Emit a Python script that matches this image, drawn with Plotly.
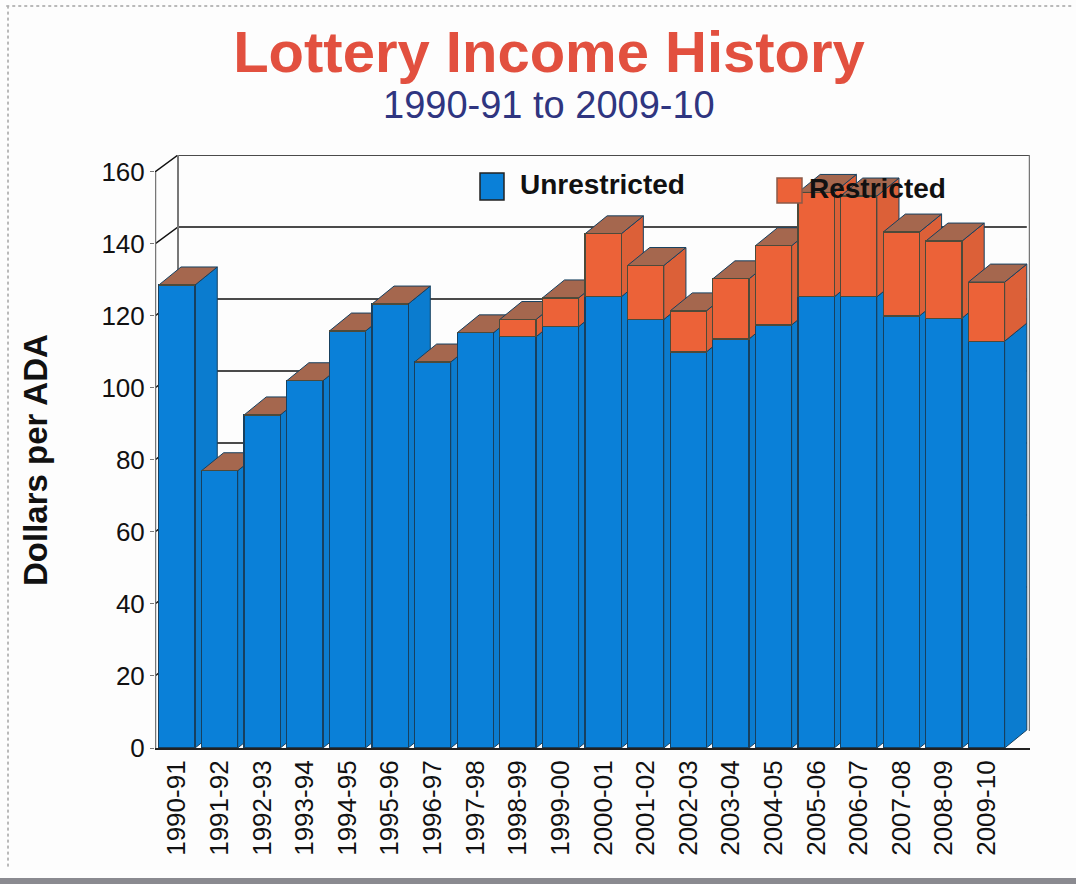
import plotly.graph_objects as go

years = ['1990-91', '1991-92', '1992-93', '1993-94', '1994-95', '1995-96', '1996-97',
         '1997-98', '1998-99', '1999-00', '2000-01', '2001-02', '2002-03', '2003-04',
         '2004-05', '2005-06', '2006-07', '2007-08', '2008-09', '2009-10']
unrestricted = [128.6, 77, 92.5, 102, 115.8, 123.3, 107.2, 115.3, 114.2, 117,
                125.3, 119, 110, 113.6, 117.5, 125.3, 125.3, 120, 119.4, 113]
restricted = [0, 0, 0, 0, 0, 0, 0, 0, 4.8, 8,
              17.5, 15, 11.4, 16.7, 22, 29, 28, 23.3, 21.4, 16.4]
y_ticks = [0, 20, 40, 60, 80, 100, 120, 140, 160]

BLUE = '#0a80d8'
BLUE_SIDE = '#0b7ccf'
RED = '#ec6238'
RED_SIDE = '#dc6038'
BROWN = '#a5674e'
EDGE = '#17405f'
FONT = 'Liberation Sans'

# fake 3D depth, in axis units
X_RANGE = [-0.516, 20.02]
Y_RANGE = [0, 164.7]
BAR_W = 0.85
DX = 0.52
DY = 5
WALL_X = X_RANGE[0] + 0.54
WALL_DY = 4.7
GRID_END = len(years) - 1 + BAR_W / 2 + DX

fig = go.Figure()


def add_line(xs, ys, color='#111111', width=1.5):
    fig.add_trace(go.Scatter(x=xs, y=ys, mode='lines', line=dict(color=color, width=width),
                             showlegend=False, hoverinfo='skip'))


def add_face(xs, ys, color):
    fig.add_trace(go.Scatter(x=xs + xs[:1], y=ys + ys[:1], mode='lines', fill='toself',
                             fillcolor=color, line=dict(color=EDGE, width=1),
                             showlegend=False, hoverinfo='skip'))


# back wall and its gridlines
for v in y_ticks[1:]:
    end = X_RANGE[1] if v == y_ticks[-1] else GRID_END
    add_line([X_RANGE[0], WALL_X, end], [v, v + WALL_DY, v + WALL_DY])
add_line([WALL_X, WALL_X], [WALL_DY, Y_RANGE[1]], '#777777', 2)
add_line([X_RANGE[1], X_RANGE[1]], [WALL_DY, Y_RANGE[1]], '#777777', 2.5)

# side and top faces, painted left to right
for i, (u, r) in enumerate(zip(unrestricted, restricted)):
    xl = i - BAR_W / 2
    xr = i + BAR_W / 2
    t = u + r
    add_face([xr, xr + DX, xr + DX, xr], [0, DY, u + DY, u], BLUE_SIDE)
    if r > 0:
        add_face([xr, xr + DX, xr + DX, xr], [u, u + DY, t + DY, t], RED_SIDE)
    add_face([xl, xl + DX, xr + DX, xr], [t, t + DY, t + DY, t], BROWN)

add_line([X_RANGE[0], X_RANGE[0]], [0, 160], '#777777', 2.5)

# front faces sit on overlaying axes so they cover every side face
idx = list(range(len(years)))
fig.add_trace(go.Bar(x=idx, y=unrestricted, name='Unrestricted', width=BAR_W, xaxis='x2', yaxis='y2',
                     marker=dict(color=BLUE, line=dict(color=EDGE, width=1.2)),
                     customdata=years, hovertemplate='%{customdata}: %{y}<extra>Unrestricted</extra>'))
fig.add_trace(go.Bar(x=idx, y=restricted, name='Restricted', width=BAR_W, xaxis='x2', yaxis='y2',
                     marker=dict(color=RED, line=dict(color='#4d4a3a', width=1.2)),
                     customdata=years, hovertemplate='%{customdata}: %{y}<extra>Restricted</extra>'))

fig.update_layout(
    width=1076,
    height=884,
    margin=dict(l=155, r=46, t=155, b=136),
    paper_bgcolor='#fdfdfd',
    plot_bgcolor='rgba(0,0,0,0)',
    barmode='stack',
    showlegend=False,
    title=dict(text='<b>Lottery Income History</b>', x=549 / 1076, xanchor='center', y=0.941, yanchor='middle',
               font=dict(family=FONT, size=58, color='#e2503f')),
    xaxis=dict(range=X_RANGE, tickmode='array', tickvals=idx, ticktext=years, tickangle=-90,
               showgrid=False, zeroline=False, showline=True, linecolor='#222222', linewidth=2,
               ticks='', tickfont=dict(family=FONT, size=26, color='#111111')),
    yaxis=dict(range=Y_RANGE, tickmode='array', tickvals=y_ticks, showgrid=False, zeroline=False,
               ticks='outside', ticklen=4, tickcolor='#777777', showline=False,
               tickfont=dict(family=FONT, size=26, color='#111111')),
    xaxis2=dict(range=X_RANGE, overlaying='x', visible=False),
    yaxis2=dict(range=Y_RANGE, overlaying='y', visible=False),
    annotations=[
        dict(text='1990-91 to 2009-10', xref='paper', yref='paper', x=(549 - 155) / 875, y=(748 - 105) / 593,
             yanchor='middle', xanchor='center', showarrow=False, font=dict(family=FONT, size=38, color='#2f3580')),
        dict(text='<b>Dollars per ADA</b>', xref='paper', yref='paper', x=(35 - 155) / 875, y=(748 - 460) / 593,
             xanchor='center', yanchor='middle', textangle=-90, showarrow=False,
             font=dict(family=FONT, size=33, color='#111111')),
        dict(text='<b>Unrestricted</b>', xref='paper', yref='paper', x=(518 - 155) / 875, y=(748 - 184) / 593,
             xanchor='left', yanchor='middle', showarrow=False, font=dict(family=FONT, size=28, color='#111111')),
        dict(text='<b>Restricted</b>', xref='paper', yref='paper', x=(807 - 155) / 875, y=(748 - 188) / 593,
             xanchor='left', yanchor='middle', showarrow=False, font=dict(family=FONT, size=28, color='#111111')),
    ],
    shapes=[
        # legend swatches
        dict(type='rect', xref='paper', yref='paper', x0=(480 - 155) / 875, x1=(504 - 155) / 875,
             y0=(748 - 200) / 593, y1=(748 - 173) / 593, fillcolor=BLUE, line=dict(color='#222222', width=1.5)),
        dict(type='rect', xref='paper', yref='paper', x0=(777 - 155) / 875, x1=(802 - 155) / 875,
             y0=(748 - 203) / 593, y1=(748 - 178) / 593, fillcolor=RED, line=dict(color='#8a5a48', width=1.5)),
        # scan edges of the page
        dict(type='line', xref='paper', yref='paper', x0=(8 - 155) / 875, x1=(8 - 155) / 875,
             y0=-0.2, y1=1.25, line=dict(color='#777777', width=1, dash='dot')),
        dict(type='line', xref='paper', yref='paper', x0=-0.17, x1=1.05,
             y0=(748 - 6) / 593, y1=(748 - 6) / 593, line=dict(color='#777777', width=1, dash='dot')),
        dict(type='rect', xref='paper', yref='paper', x0=-0.18, x1=1.06,
             y0=(748 - 885) / 593, y1=(748 - 878) / 593, fillcolor='#8a8a90', line=dict(width=0)),
    ],
)

fig.write_html('out.html', config=dict(displayModeBar=False),
               post_script="document.body.style.margin='0';document.body.style.overflow='hidden';")
